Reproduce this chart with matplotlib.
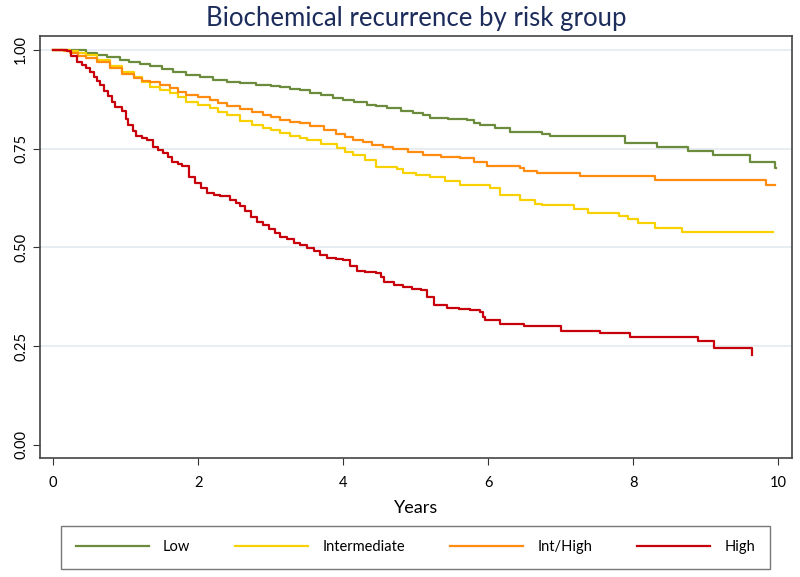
import matplotlib
matplotlib.use("Agg")
import matplotlib.pyplot as plt

# Kaplan-Meier style step curves (years, survival after step).
low_t = [0, 0.40, 0.46, 0.6, 0.75, 0.92, 1.05, 1.2, 1.34, 1.5, 1.65, 1.84, 2.03, 2.21, 2.4, 2.58,
         2.8, 3.0, 3.13, 3.27, 3.41, 3.55, 3.7, 3.86, 4.0, 4.15, 4.33, 4.45, 4.6, 4.8, 4.97, 5.1,
         5.2, 5.45, 5.71, 5.8, 5.89, 6.1, 6.3, 6.74, 6.85, 7.89, 8.33, 8.76, 9.1, 9.61, 9.96, 9.97]
low_s = [1.0, 1.0, 0.993, 0.988, 0.982, 0.975, 0.970, 0.965, 0.958, 0.951, 0.944, 0.937, 0.932,
         0.924, 0.919, 0.916, 0.912, 0.908, 0.906, 0.902, 0.899, 0.892, 0.885, 0.878, 0.874,
         0.868, 0.861, 0.857, 0.852, 0.846, 0.840, 0.834, 0.828, 0.826, 0.823, 0.816, 0.810,
         0.801, 0.792, 0.787, 0.781, 0.765, 0.755, 0.745, 0.734, 0.717, 0.700, 0.700]

int_t = [0, 0.23, 0.35, 0.46, 0.6, 0.79, 0.95, 1.11, 1.22, 1.34, 1.48, 1.61, 1.72, 1.84, 2.0,
         2.17, 2.28, 2.40, 2.58, 2.75, 2.9, 3.0, 3.13, 3.27, 3.41, 3.5, 3.7, 3.91, 4.02, 4.14,
         4.3, 4.46, 4.74, 4.83, 5.0, 5.2, 5.4, 5.61, 6.03, 6.17, 6.44, 6.65, 6.74, 7.18, 7.38,
         7.8, 7.93, 8.06, 8.3, 8.68, 9.93]
int_s = [1.0, 0.996, 0.992, 0.987, 0.974, 0.958, 0.945, 0.931, 0.918, 0.907, 0.898, 0.890,
         0.880, 0.869, 0.860, 0.852, 0.843, 0.835, 0.820, 0.810, 0.802, 0.798, 0.789, 0.782,
         0.778, 0.772, 0.762, 0.751, 0.742, 0.734, 0.720, 0.703, 0.698, 0.688, 0.684, 0.679,
         0.668, 0.658, 0.650, 0.633, 0.620, 0.610, 0.607, 0.598, 0.588, 0.580, 0.571, 0.561,
         0.549, 0.538, 0.538]

inthigh_t = [0, 0.15, 0.23, 0.35, 0.46, 0.6, 0.79, 0.95, 1.11, 1.22, 1.34, 1.48, 1.61, 1.72,
             1.84, 2.0, 2.17, 2.28, 2.40, 2.58, 2.75, 2.9, 3.0, 3.13, 3.27, 3.41, 3.55, 3.73,
             3.9, 4.02, 4.14, 4.28, 4.4, 4.55, 4.69, 4.9, 5.1, 5.35, 5.61, 5.8, 5.98, 6.44,
             6.5, 6.67, 7.27, 8.3, 9.83, 9.96]
inthigh_s = [1.0, 0.996, 0.992, 0.985, 0.979, 0.968, 0.954, 0.940, 0.928, 0.922, 0.918, 0.910,
             0.903, 0.893, 0.886, 0.880, 0.873, 0.865, 0.858, 0.850, 0.842, 0.836, 0.830,
             0.823, 0.818, 0.814, 0.806, 0.797, 0.788, 0.780, 0.772, 0.766, 0.760, 0.755,
             0.749, 0.742, 0.734, 0.730, 0.726, 0.716, 0.705, 0.700, 0.694, 0.689, 0.681,
             0.671, 0.659, 0.659]

high_t = [0, 0.19, 0.25, 0.33, 0.40, 0.46, 0.51, 0.56, 0.60, 0.65, 0.70, 0.76, 0.81, 0.86, 0.95,
          1.00, 1.04, 1.10, 1.15, 1.22, 1.29, 1.38, 1.45, 1.52, 1.58, 1.64, 1.72, 1.78, 1.87,
          1.96, 2.04, 2.12, 2.22, 2.30, 2.44, 2.52, 2.58, 2.65, 2.73, 2.81, 2.90, 2.98, 3.06,
          3.13, 3.22, 3.32, 3.41, 3.50, 3.60, 3.68, 3.78, 3.90, 4.00, 4.10, 4.19, 4.30, 4.46,
          4.52, 4.56, 4.70, 4.83, 4.95, 5.08, 5.15, 5.25, 5.43, 5.60, 5.75, 5.89, 5.93, 5.96,
          6.17, 6.5, 7.0, 7.54, 7.96, 8.89, 9.12, 9.64]
high_s = [1.0, 0.996, 0.985, 0.970, 0.962, 0.954, 0.943, 0.932, 0.922, 0.911, 0.897, 0.882,
          0.869, 0.856, 0.844, 0.826, 0.810, 0.795, 0.782, 0.777, 0.772, 0.755, 0.746, 0.738,
          0.728, 0.717, 0.710, 0.705, 0.679, 0.663, 0.650, 0.637, 0.632, 0.629, 0.620, 0.612,
          0.605, 0.592, 0.578, 0.565, 0.556, 0.547, 0.536, 0.527, 0.520, 0.512, 0.506, 0.498,
          0.490, 0.481, 0.473, 0.470, 0.468, 0.452, 0.439, 0.437, 0.435, 0.424, 0.413, 0.404,
          0.399, 0.394, 0.392, 0.375, 0.354, 0.346, 0.344, 0.341, 0.337, 0.325, 0.315, 0.306,
          0.300, 0.289, 0.284, 0.274, 0.263, 0.245, 0.228]

labels = ["Low", "Intermediate", "Int/High", "High"]
colors = ["#6b8c3c", "#f7d200", "#ff8c0f", "#c8000c"]

y_ticks = [0.0, 0.25, 0.5, 0.75, 1.0]
y_ticklabels = ["0.00", "0.25", "0.50", "0.75", "1.00"]
x_ticks = [0, 2, 4, 6, 8, 10]

plt.rcParams["font.family"] = ["Lato", "DejaVu Sans"]

fig = plt.figure(figsize=(8, 5.77), dpi=100)
ax = fig.add_axes([40 / 800, 1 - 458 / 577, 752 / 800, 422 / 577])

# light grid lines, Stata look
for yv in y_ticks[1:]:
    ax.axhline(yv, color="#e3eaee", lw=1.2, zorder=0)

series = [(low_t, low_s), (int_t, int_s), (inthigh_t, inthigh_s), (high_t, high_s)]
for (tt, ss), lab, col in zip(series, labels, colors):
    ax.step(tt, ss, where="post", color=col, lw=1.6, label=lab)

ax.set_xlim(-0.18, 10.19)
ax.set_ylim(-0.033, 1.035)
ax.set_xticks(x_ticks)
ax.set_yticks(y_ticks)
ax.set_yticklabels(y_ticklabels, rotation=90, va="center")
ax.tick_params(axis="both", direction="out", length=5, color="#333333", labelsize=10.5)
ax.tick_params(axis="x", pad=8)
for sp in ax.spines.values():
    sp.set_color("#444444")
    sp.set_linewidth(1.2)

ax.set_xlabel("Years", fontsize=13, labelpad=7)
ax.set_title("Biochemical recurrence by risk group", fontsize=18.5, color="#1c2d5c", pad=7)

fig.legend(loc="lower left", bbox_to_anchor=(61 / 800, 1 - 569 / 577, 709 / 800, 41 / 577),
           mode="expand", ncol=4, handlelength=5, fontsize=10.5, frameon=True, fancybox=False,
           edgecolor="#555555", borderpad=1.0, handletextpad=1.0, borderaxespad=0)

fig.savefig("out.png", dpi=100)
